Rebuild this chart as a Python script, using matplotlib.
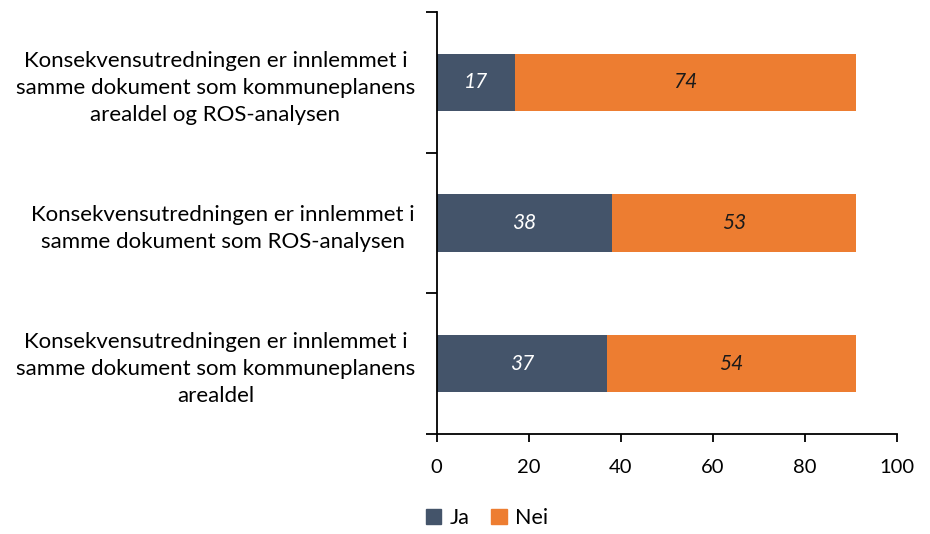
import numpy as np
import matplotlib.pyplot as plt
from matplotlib.patches import Patch

plt.rcParams['font.family'] = ['Lato', 'DejaVu Sans']

categories = [
    "Konsekvensutredningen er innlemmet i\nsamme dokument som kommuneplanens\narealdel og ROS-analysen",
    "Konsekvensutredningen er innlemmet i\nsamme dokument som ROS-analysen",
    "Konsekvensutredningen er innlemmet i\nsamme dokument som kommuneplanens\narealdel",
]
ja = [17, 38, 37]
nei = [74, 53, 54]
xticks = [0, 20, 40, 60, 80, 100]

c_ja = '#44546A'
c_nei = '#ED7D31'

fig = plt.figure(figsize=(9.3, 5.34), dpi=100)
ax = fig.add_axes([0.4694, 0.1873, 0.4955, 0.7902])

y = np.arange(len(categories))[::-1]
ax.barh(y, ja, height=0.41, color=c_ja)
ax.barh(y, nei, left=ja, height=0.41, color=c_nei)

for yi, a, b in zip(y, ja, nei):
    ax.text(a / 2, yi, str(a), ha='center', va='center', color='white',
            style='italic', fontsize=15)
    ax.text(a + b / 2, yi, str(b), ha='center', va='center', color='#1a1a1a',
            style='italic', fontsize=15)

ax.set_xlim(0, 100)
ax.set_ylim(-0.5, 2.5)
ax.set_xticks(xticks)
ax.tick_params(axis='x', labelsize=14.5, length=6, width=1.3, pad=12)

ax.set_yticks(y)
ax.set_yticklabels(categories, fontsize=16)
for lbl in ax.get_yticklabels():
    lbl.set_multialignment('center')
    lbl.set_linespacing(1.45)
ax.tick_params(axis='y', which='major', length=0, pad=15.5)
ax.set_yticks([-0.5, 0.5, 1.5, 2.5], minor=True)
ax.tick_params(axis='y', which='minor', length=8, width=1.3)

for s in ['top', 'right']:
    ax.spines[s].set_visible(False)
for s in ['left', 'bottom']:
    ax.spines[s].set_linewidth(1.3)

handles = [Patch(color=c_ja, label='Ja'), Patch(color=c_nei, label='Nei')]
fig.legend(handles=handles, loc='center', bbox_to_anchor=(0.524, 0.03),
           ncol=2, frameon=False, fontsize=15.5, handlelength=0.7,
           handleheight=0.7, handletextpad=0.4, columnspacing=1.0)

fig.savefig('out.png', dpi=100)
